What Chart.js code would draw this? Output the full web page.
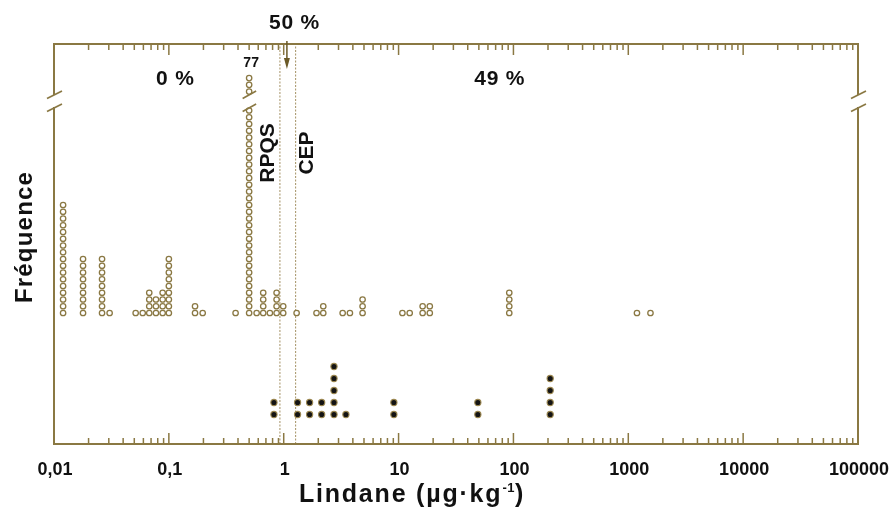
<!DOCTYPE html>
<html><head><meta charset="utf-8">
<script src="https://cdn.jsdelivr.net/npm/chart.js@4.4.1/dist/chart.umd.min.js"></script>
<style>html,body{margin:0;padding:0;background:#fff;}canvas{display:block;}</style>
</head><body>
<canvas id="c" width="895" height="513"></canvas>
<script>
// ---- data ----
const hollowValues = [0.012, 0.0179, 0.0262, 0.0305, 0.0514, 0.0592, 0.0675, 0.0772, 0.0883, 0.1, 0.169, 0.197, 0.381, 0.5, 0.581, 0.663, 0.758, 0.867, 0.99, 1.295, 1.93, 2.21, 3.26, 3.77, 4.86, 10.8, 12.5, 16.2, 18.7, 92, 1190, 1560];
const hollowCounts = [17, 9, 9, 1, 1, 1, 4, 3, 4, 9, 2, 1, 1, 77, 1, 4, 1, 4, 2, 1, 1, 2, 1, 1, 3, 1, 1, 2, 2, 4, 1, 1];
const filledValues = [0.822, 1.32, 1.68, 2.14, 2.74, 3.48, 9.1, 49, 209];
const filledCounts = [2, 2, 2, 2, 5, 1, 2, 2, 4];
const refLineNames = ['RPQS', 'CEP'];
const refLineValues = [0.927, 1.27];
const medianValue = 1.066;
const pctLabels = ['0 %', '50 %', '49 %'];
const tickValues = [0.01, 0.1, 1, 10, 100, 1000, 10000, 100000];
const tickLabels = ['0,01', '0,1', '1', '10', '100', '1000', '10000', '100000'];
const xTitleParts = ['Lindane (µg·kg', '-1', ')'];
const yTitle = 'Fréquence';

// ---- layout / style ----
const X_MIN = 0.01, X_MAX = 100000, Y_MAX = 400;
const HOLLOW_BASE = 131, HOLLOW_STEP = 6.75;
const FILLED_BASE = 29.5, FILLED_STEP = 12;
const CAP = {lower: 31, upper: 3, upperStart: 32.8};
const BREAK_Y = 343;            // y units where the axis break sits
const PCT_POS = [0.114, 1.24, 76];
const AXIS = '#8a7843';
const REF = '#a39163';
const FONT = '"Liberation Sans", Arial, Helvetica, sans-serif';

function stackPoints(values, counts, base, step, cap) {
  const pts = [];
  values.forEach((v, i) => {
    const n = counts[i];
    if (cap && n > cap.lower + cap.upper) {
      for (let k = 0; k < cap.lower; k++) pts.push({x: v, y: base + k * step});
      for (let j = 0; j < cap.upper; j++) pts.push({x: v, y: base + (cap.upperStart + j) * step});
    } else {
      for (let k = 0; k < n; k++) pts.push({x: v, y: base + k * step});
    }
  });
  return pts;
}

const datasets = [
  {type: 'scatter', data: stackPoints(hollowValues, hollowCounts, HOLLOW_BASE, HOLLOW_STEP, CAP),
   pointRadius: 2.7, pointBorderWidth: 1.3, pointBackgroundColor: '#ffffff', pointBorderColor: AXIS, order: 1},
  {type: 'scatter', data: stackPoints(filledValues, filledCounts, FILLED_BASE, FILLED_STEP, null),
   pointRadius: 3.1, pointBorderWidth: 1.1, pointBackgroundColor: '#141414', pointBorderColor: '#9a8650', order: 1}
];
refLineValues.forEach(v => datasets.push({
  type: 'line', data: [{x: v, y: 0}, {x: v, y: Y_MAX}], borderColor: REF, borderWidth: 1,
  borderDash: [2, 1.5], pointRadius: 0, fill: false, order: 3
}));

function line(ctx, x1, y1, x2, y2) { ctx.beginPath(); ctx.moveTo(x1, y1); ctx.lineTo(x2, y2); ctx.stroke(); }

const decor = {
  id: 'decor',
  afterDatasetsDraw(chart) {
    const ctx = chart.ctx, xs = chart.scales.x, ys = chart.scales.y;
    const L = xs.getPixelForValue(X_MIN), R = xs.getPixelForValue(X_MAX);
    const T = ys.getPixelForValue(Y_MAX), B = ys.getPixelForValue(0);
    const bY = ys.getPixelForValue(BREAK_Y);
    ctx.save();
    ctx.strokeStyle = AXIS; ctx.lineCap = 'butt';
    // frame
    ctx.lineWidth = 2;
    line(ctx, L, T, R, T);
    line(ctx, L, B, R, B);
    line(ctx, L, T - 1, L, bY - 6); line(ctx, L, bY + 6, L, B + 1);
    line(ctx, R, T - 1, R, bY - 6); line(ctx, R, bY + 6, R, B + 1);
    // break marks on both sides
    ctx.lineWidth = 1.6;
    [L, R].forEach(x => {
      line(ctx, x - 7, bY - 2.5, x + 8, bY - 10);
      line(ctx, x - 7, bY + 10.5, x + 8, bY + 3);
    });
    // ticks
    ctx.lineWidth = 1.5;
    for (let d = -2; d <= 5; d++) {
      for (let m = 1; m <= 9; m++) {
        const v = m * Math.pow(10, d);
        if (v <= X_MIN || v >= X_MAX) continue;
        const x = xs.getPixelForValue(v);
        const len = m === 1 ? 11 : 6;
        line(ctx, x, T, x, T + len);
        line(ctx, x, B, x, B - len);
      }
    }
    // break on the truncated column
    hollowValues.forEach((v, i) => {
      if (hollowCounts[i] > CAP.lower + CAP.upper) {
        const x = xs.getPixelForValue(v);
        const lowTop = ys.getPixelForValue(HOLLOW_BASE + (CAP.lower - 1) * HOLLOW_STEP);
        const upBot = ys.getPixelForValue(HOLLOW_BASE + CAP.upperStart * HOLLOW_STEP);
        const mid = (lowTop + upBot) / 2;
        ctx.lineWidth = 1.6;
        line(ctx, x - 6.5, mid - 2.5, x + 7, mid - 10);
        line(ctx, x - 6.5, mid + 10.5, x + 7, mid + 3);
        const topPx = ys.getPixelForValue(HOLLOW_BASE + (CAP.upperStart + CAP.upper - 1) * HOLLOW_STEP);
        ctx.fillStyle = '#111';
        ctx.font = 'bold 14px ' + FONT;
        ctx.textAlign = 'center'; ctx.textBaseline = 'alphabetic';
        ctx.fillText(String(hollowCounts[i]), x + 2, topPx - 11);
      }
    });
    // median arrow
    const ax = xs.getPixelForValue(medianValue);
    ctx.strokeStyle = '#6b5a28'; ctx.fillStyle = '#6b5a28'; ctx.lineWidth = 1.5;
    line(ctx, ax, T - 3, ax, T + 16);
    ctx.beginPath(); ctx.moveTo(ax - 3, T + 14); ctx.lineTo(ax + 3, T + 14); ctx.lineTo(ax, T + 25); ctx.closePath(); ctx.fill();

    ctx.fillStyle = '#111';
    ctx.textAlign = 'center'; ctx.textBaseline = 'alphabetic';
    // percentages
    ctx.font = 'bold 21px ' + FONT;
    ctx.letterSpacing = '0.8px';
    ctx.fillText(pctLabels[0], xs.getPixelForValue(PCT_POS[0]), 85);
    ctx.fillText(pctLabels[1], xs.getPixelForValue(PCT_POS[1]), 29);
    ctx.fillText(pctLabels[2], xs.getPixelForValue(PCT_POS[2]), 85);
    ctx.letterSpacing = '0px';
    // tick labels
    ctx.font = 'bold 18px ' + FONT;
    ctx.textBaseline = 'middle';
    tickValues.forEach((v, i) => ctx.fillText(tickLabels[i], xs.getPixelForValue(v) + 1, 470));
    ctx.textBaseline = 'alphabetic';
    // reference line names (rotated)
    ctx.font = 'bold 21px ' + FONT;
    const refOff = [-6, 17];
    refLineValues.forEach((v, i) => {
      ctx.save();
      ctx.translate(xs.getPixelForValue(v) + refOff[i], 153);
      ctx.rotate(-Math.PI / 2);
      ctx.fillText(refLineNames[i], 0, 0);
      ctx.restore();
    });
    // y title
    ctx.save();
    ctx.font = 'bold 24px ' + FONT;
    ctx.letterSpacing = '1.2px';
    ctx.translate(32, 237);
    ctx.rotate(-Math.PI / 2);
    ctx.fillText(yTitle, 0, 0);
    ctx.restore();
    // x title with superscript
    ctx.textAlign = 'left';
    ctx.letterSpacing = '1.8px';
    ctx.font = 'bold 25px ' + FONT;
    const w0 = ctx.measureText(xTitleParts[0]).width;
    const w2 = ctx.measureText(xTitleParts[2]).width;
    ctx.font = 'bold 13px ' + FONT;
    ctx.letterSpacing = '0.5px';
    const w1 = ctx.measureText(xTitleParts[1]).width;
    let sx = 412 - (w0 + w1 + w2) / 2;
    ctx.letterSpacing = '1.8px';
    ctx.font = 'bold 25px ' + FONT;
    ctx.fillText(xTitleParts[0], sx, 502);
    ctx.font = 'bold 13px ' + FONT;
    ctx.letterSpacing = '0.5px';
    ctx.fillText(xTitleParts[1], sx + w0, 492);
    ctx.letterSpacing = '1.8px';
    ctx.font = 'bold 25px ' + FONT;
    ctx.fillText(xTitleParts[2], sx + w0 + w1, 502);
    ctx.restore();
  }
};

new Chart(document.getElementById('c'), {
  type: 'scatter',
  data: {datasets},
  options: {
    responsive: false, animation: false, devicePixelRatio: 1, events: [],
    layout: {padding: {left: 54, right: 37, top: 44, bottom: 69}},
    plugins: {legend: {display: false}, tooltip: {enabled: false}},
    scales: {
      x: {type: 'logarithmic', min: X_MIN, max: X_MAX, display: false},
      y: {type: 'linear', min: 0, max: Y_MAX, display: false}
    }
  },
  plugins: [decor]
});
</script>
</body></html>
